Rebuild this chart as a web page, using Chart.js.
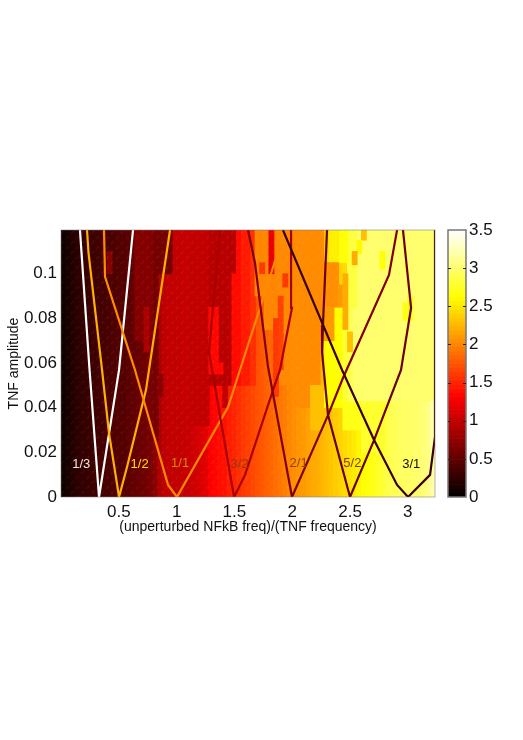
<!DOCTYPE html>
<html>
<head>
<meta charset="utf-8">
<style>
  html, body { margin: 0; padding: 0; background: #fff; }
  #wrap { position: relative; width: 523px; height: 740px; }
  canvas { position: absolute; left: 0; top: 0; }
</style>
<script src="https://cdn.jsdelivr.net/npm/chart.js@4/dist/chart.umd.min.js"></script>
</head>
<body>
<div id="wrap">
  <canvas id="heat" width="523" height="740"></canvas>
  <canvas id="bar" width="523" height="740"></canvas>
</div>
<script>
const xTicks = [0.5, 1, 1.5, 2, 2.5, 3];
const yTicks = [0, 0.02, 0.04, 0.06, 0.08, 0.1];
const barTicks = [0, 0.5, 1, 1.5, 2, 2.5, 3, 3.5];
const colStep = 0.04;

// value of each column along the bottom of the map
const baseColumns = [
    0.08, 0.12, 0.18, 0.22, 0.25, 0.28, 0.3, 0.32, 0.34, 0.36,
    0.38, 0.4, 0.42, 0.44, 0.46, 0.5, 0.52, 0.55, 0.58, 0.62,
    0.72, 0.9, 0.98, 1, 1, 1, 1.02, 1.02, 1.05, 1.08,
    1.12, 1.18, 1.3, 1.34, 1.38, 1.4, 1.46, 1.5, 1.55, 1.6,
    1.64, 1.68, 1.72, 1.76, 1.8, 1.84, 1.88, 1.92, 1.96, 2,
    2.05, 2.08, 2.1, 2.14, 2.18, 2.2, 2.25, 2.28, 2.32, 2.36,
    2.4, 2.44, 2.48, 2.52, 2.58, 2.63, 2.66, 2.7, 2.74, 2.8,
    2.86, 2.9, 2.93, 2.95, 2.96, 2.97, 2.98, 3, 3.03, 3.08, 3.2
];

// regions that differ higher up: first column, last column, low amp, high amp, value
const patches = [
    [16, 19, 0.07, 0.12, 0.68],
    [18, 18, 0.065, 0.085, 0.88],
    [10, 10, 0.1, 0.11, 0.7],
    [20, 20, 0.025, 0.12, 0.6],
    [21, 23, 0.1, 0.12, 0.6],
    [21, 21, 0.045, 0.055, 0.7],
    [28, 31, 0.032, 0.12, 1],
    [32, 36, 0.05, 0.12, 0.95],
    [37, 37, 0.1, 0.12, 0.95],
    [32, 33, 0.055, 0.085, 1.35],
    [34, 34, 0.055, 0.06, 1.35],
    [35, 35, 0.04, 0.05, 1],
    [37, 38, 0.05, 0.1, 1.36],
    [38, 38, 0.1, 0.12, 1.36],
    [39, 40, 0.05, 0.12, 1.45],
    [41, 41, 0.05, 0.12, 1.55],
    [42, 43, 0.09, 0.12, 2],
    [44, 46, 0.075, 0.12, 2],
    [47, 49, 0.05, 0.12, 2.02],
    [50, 53, 0.04, 0.12, 2.03],
    [54, 55, 0.05, 0.12, 2.03],
    [56, 56, 0.07, 0.12, 2.03],
    [54, 56, 0.03, 0.05, 2.3],
    [61, 64, 0.03, 0.043, 2.7],
    [65, 69, 0.02, 0.043, 2.78],
    [63, 80, 0.043, 0.12, 3],
    [62, 62, 0.043, 0.085, 2.9],
    [62, 63, 0.085, 0.12, 2.85],
    [60, 61, 0.105, 0.12, 2.65],
    [57, 60, 0.04, 0.085, 2.62],
    [61, 61, 0.043, 0.075, 2.8],
    [57, 57, 0.1, 0.12, 2.35],
    [58, 59, 0.105, 0.12, 2.55],
    [57, 59, 0.085, 0.105, 2.05],
    [60, 60, 0.085, 0.095, 2.1],
    [61, 61, 0.075, 0.1, 2.2],
    [57, 58, 0.07, 0.085, 2.1],
    [62, 62, 0.065, 0.074, 2.3],
    [65, 65, 0.115, 0.12, 2.3],
    [64, 64, 0.109, 0.115, 2.6],
    [63, 63, 0.104, 0.11, 2.2],
    [69, 69, 0.102, 0.11, 2.65],
    [75, 75, 0.084, 0.09, 2.65],
    [74, 75, 0.079, 0.087, 2.7],
    [45, 45, 0.1, 0.12, 1.2],
    [43, 43, 0.1, 0.105, 1.6],
    [48, 48, 0.094, 0.1, 1.6],
    [47, 47, 0.057, 0.09, 1.65],
    [46, 46, 0.045, 0.08, 1.6]
];

const ratio13 = [[0.164, 0.1196], [0.247, 0.0569], [0.329, 0], [0.502, 0.0569], [0.623, 0.1196]];
const ratio12 = [[0.225, 0.1196], [0.238, 0.1093], [0.355, 0.0569], [0.415, 0.0287], [0.502, 0], [0.571, 0.0134], [0.735, 0.0479], [0.943, 0.1196]];
const ratio11 = [[0.372, 0.1196], [0.381, 0.0986], [0.64, 0.0569], [0.926, 0.0054], [1.003, 0], [1.445, 0.0403], [1.548, 0.0569], [1.938, 0.1196]];
const ratio32 = [[1.375, 0.1196], [1.28, 0.065], [1.497, 0], [1.592, 0.0099], [1.834, 0.0479], [1.894, 0.0569], [1.998, 0.0847], [1.99, 0.1196]];
const ratio21 = [[1.618, 0.1196], [1.678, 0.1048], [1.791, 0.0582], [1.998, 0], [2.31, 0.0367], [2.439, 0.0533], [2.837, 0.0995], [2.907, 0.1196]];
const ratio52 = [[2.301, 0.1196], [2.266, 0.0771], [2.258, 0.065], [2.31, 0.0367], [2.5, 0], [2.708, 0.0255], [2.941, 0.0569], [3.028, 0.0847], [2.958, 0.1196]];
const ratio31 = [[1.92, 0.1196], [2.431, 0.0569], [2.708, 0.0255], [2.907, 0.0054], [3.002, 0], [3.192, 0.0099], [3.235, 0.0269], [3.235, 0.1196]];

const ratioLabels = ["1/3", "1/2", "1/1", "3/2", "2/1", "5/2", "3/1"];
const ratioLabelX = [0.175, 0.68, 1.03, 1.545, 2.055, 2.52, 3.03];
const ratioLabelY = [0.0147, 0.0147, 0.015, 0.0147, 0.015, 0.015, 0.0147];
const ratioLabelColors = ["#f0e6e0", "#ffe000", "#d08a10", "#8a3c10", "#96430f", "#8a3a08", "#1a0c00"];

const FONT = "'Liberation Sans', Arial, sans-serif";
const VMAX = 3.5;

// matlab "hot"
function hot(v) {
    const t = Math.min(1, Math.max(0, v / VMAX));
    const r = Math.min(1, t / 0.375);
    const g = Math.min(1, Math.max(0, (t - 0.375) / 0.375));
    const b = Math.max(0, (t - 0.75) / 0.25);
    return `rgb(${Math.round(r * 255)},${Math.round(g * 255)},${Math.round(b * 255)})`;
}

function columnX(col) {
    return (col + 0.5) * colStep;
}

function hatch() {
    const tile = document.createElement("canvas");
    tile.width = 10;
    tile.height = 10;
    const c = tile.getContext("2d");
    c.strokeStyle = "rgba(255,255,255,0.045)";
    c.lineWidth = 1.5;
    c.beginPath();
    c.moveTo(1, 4);
    c.lineTo(4, 1);
    c.moveTo(6, 9);
    c.lineTo(9, 6);
    c.stroke();
    return c.createPattern(tile, "repeat");
}

const baseBars = baseColumns.map((v, i) => ({ x: columnX(i), y: [0, 0.12] }));
const baseColors = baseColumns.map(hot);
const patchBars = [], patchColors = [];
patches.forEach(([c0, c1, y0, y1, v]) => {
    for (let c = c0; c <= c1; c++) {
        patchBars.push({ x: columnX(c), y: [y0, y1] });
        patchColors.push(hot(v));
    }
});

function heatLayer(data, colors, order) {
    return {
        type: "bar",
        data: data,
        backgroundColor: colors,
        borderWidth: 0,
        barThickness: 5.2,
        grouped: false,
        order: order
    };
}

function tongue(points, color, order) {
    return {
        type: "line",
        data: points.map(p => ({ x: p[0], y: p[1] })),
        borderColor: color,
        borderWidth: 2.2,
        pointRadius: 0,
        tension: 0,
        fill: false,
        order: order
    };
}

const frame = {
    id: "frame",
    afterDraw(chart, args, opts) {
        const { ctx, chartArea: a } = chart;
        ctx.save();
        ctx.strokeStyle = opts.color;
        ctx.lineWidth = opts.width;
        ctx.strokeRect(a.left, a.top, a.right - a.left, a.bottom - a.top);
        ctx.restore();
    }
};

const ratioText = {
    id: "ratioText",
    afterDatasetsDraw(chart) {
        const { ctx, scales } = chart;
        ctx.save();
        ctx.font = "13px " + FONT;
        ctx.textAlign = "center";
        ctx.textBaseline = "middle";
        ratioLabels.forEach((t, i) => {
            ctx.fillStyle = ratioLabelColors[i];
            ctx.fillText(t, scales.x.getPixelForValue(ratioLabelX[i]), scales.y.getPixelForValue(ratioLabelY[i]));
        });
        ctx.restore();
    }
};

const barMarks = {
    id: "barMarks",
    afterDraw(chart) {
        const { ctx, chartArea: a, scales } = chart;
        ctx.save();
        ctx.strokeStyle = "#222";
        ctx.lineWidth = 1;
        barTicks.slice(1, -1).forEach(v => {
            const y = Math.round(scales.y.getPixelForValue(v)) + 0.5;
            ctx.beginPath();
            ctx.moveTo(a.left, y);
            ctx.lineTo(a.left + 3, y);
            ctx.moveTo(a.right - 3, y);
            ctx.lineTo(a.right, y);
            ctx.stroke();
        });
        ctx.restore();
    }
};

new Chart(document.getElementById("heat"), {
    type: "bar",
    data: {
        datasets: [
            tongue(ratio31, "#3a0000", 1),
            tongue(ratio52, "#6a0000", 2),
            tongue(ratio21, "#800000", 3),
            tongue(ratio32, "#aa0000", 4),
            tongue(ratio11, "#ff8c00", 5),
            tongue(ratio12, "#ffb000", 6),
            tongue(ratio13, "#ffffff", 7),
            heatLayer(baseBars, hatch(), 10),
            heatLayer(patchBars, patchColors, 20),
            heatLayer(baseBars, baseColors, 30)
        ]
    },
    options: {
        responsive: false,
        animation: false,
        events: [],
        layout: { padding: { top: 230, right: 88, bottom: 204, left: 0 } },
        plugins: {
            legend: { display: false },
            tooltip: { enabled: false },
            frame: { color: "rgba(120,120,120,0.55)", width: 1 }
        },
        scales: {
            x: {
                type: "linear",
                min: 0,
                max: 3.235,
                offset: false,
                grid: { display: false, drawTicks: false },
                border: { display: false },
                afterBuildTicks: s => { s.ticks = xTicks.map(v => ({ value: v })); },
                afterFit: s => { s.height = 39; },
                ticks: {
                    padding: 5,
                    maxRotation: 0,
                    autoSkip: false,
                    color: "#111",
                    font: { family: FONT, size: 17 },
                    callback: v => String(v)
                },
                title: {
                    display: true,
                    text: "(unperturbed NFkB freq)/(TNF frequency)",
                    color: "#111",
                    font: { family: FONT, size: 14 },
                    padding: { top: 0, bottom: 0 }
                }
            },
            y: {
                type: "linear",
                min: 0,
                max: 0.1196,
                grid: { display: false, drawTicks: false },
                border: { display: false },
                afterBuildTicks: s => { s.ticks = yTicks.map(v => ({ value: v })); },
                afterFit: s => { s.width = 61; },
                ticks: {
                    padding: 4,
                    autoSkip: false,
                    color: "#111",
                    font: { family: FONT, size: 17 },
                    callback: v => String(v)
                },
                title: {
                    display: true,
                    text: "TNF amplitude",
                    color: "#111",
                    font: { family: FONT, size: 14 },
                    padding: { top: 6, bottom: 0 }
                }
            }
        }
    },
    plugins: [frame, ratioText]
});

const barLevels = Array.from({ length: 64 }, (_, i) => (i + 0.5) * VMAX / 64);

new Chart(document.getElementById("bar"), {
    type: "bar",
    data: {
        labels: ["c"],
        datasets: [{
            data: barLevels.map(v => ({ x: 0.5, y: [v - VMAX / 128, v + VMAX / 128] })),
            backgroundColor: barLevels.map(hot),
            borderWidth: 0,
            grouped: false,
            barThickness: 18
        }]
    },
    options: {
        responsive: false,
        animation: false,
        events: [],
        layout: { padding: { top: 230, right: 0, bottom: 243, left: 448 } },
        plugins: {
            legend: { display: false },
            tooltip: { enabled: false },
            frame: { color: "#777", width: 1.5 }
        },
        scales: {
            x: { type: "linear", min: 0, max: 1, display: false },
            y: {
                type: "linear",
                position: "right",
                min: 0,
                max: VMAX,
                grid: { display: false, drawTicks: false },
                border: { display: false },
                afterBuildTicks: s => { s.ticks = barTicks.map(v => ({ value: v })); },
                afterFit: s => { s.width = 57; },
                ticks: {
                    padding: 3,
                    autoSkip: false,
                    color: "#111",
                    font: { family: FONT, size: 17 },
                    callback: v => String(v)
                }
            }
        }
    },
    plugins: [frame, barMarks]
});
</script>
</body>
</html>
